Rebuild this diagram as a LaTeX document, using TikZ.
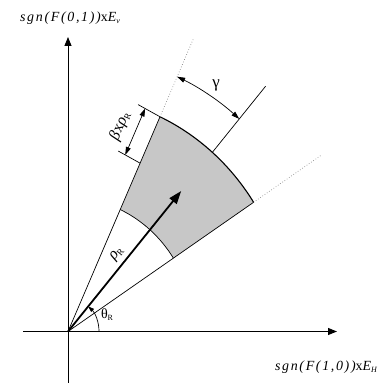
\documentclass[tikz,border=0pt]{standalone}
\usepackage{fontspec}
\setmainfont{Liberation Serif}
\newfontfamily\axfont[LetterSpace=12]{Liberation Serif}
\usetikzlibrary{arrows.meta,calc}
\begin{document}
\begin{tikzpicture}[x=1bp,y=1bp,
  axis/.style={line width=0.8bp,-{Triangle[length=9bp,width=7bp]}},
  edge/.style={line width=0.7bp},
  rim/.style={line width=1.1bp},
  guide/.style={line width=0.7bp, dotted, black!45},
  dim/.style={line width=0.7bp,{Triangle[length=8bp,width=5bp]}-{Triangle[length=8bp,width=5bp]}},
  rho/.style={line width=1.8bp,-{Triangle[length=13bp,width=9bp]}},
  thetaarc/.style={line width=0.7bp,-{Triangle[length=6bp,width=4bp]}},
  lbl/.style={font=\fontsize{14}{16}\selectfont, inner sep=0pt},
  axlbl/.style={font=\axfont\fontsize{14}{16}\selectfont\itshape, inner sep=0pt},
  ]
\useasboundingbox (0,0) rectangle (389,383);
\coordinate (O) at (68,51.5);
\coordinate (xl) at (23,51.5);
\coordinate (xr) at (337,51.5);
\coordinate (yb) at (68,0);
\coordinate (yt) at (68,346);
\begin{scope}[shift={(68,51.5)}, xscale=0.94]
  \coordinate (i1) at (33.2:134);
  \coordinate (i2) at (65.5:134);
  \coordinate (o1) at (33.2:236);
  \coordinate (o2) at (65.5:236);
  \coordinate (oc) at (49.4:236);
  \coordinate (e1) at (33.2:323);
  \coordinate (e2) at (65.5:323);
  \coordinate (ec) at (49.4:323);
  \coordinate (rt) at (49.4:185);
  \coordinate (m2) at (65.5:185);
  \coordinate (g1) at (65.5:280);
  \coordinate (t0) at (0:33);
  \fill[black!22] (i1) arc[start angle=33.2,end angle=65.5,radius=134] -- (o2)
     arc[start angle=65.5,end angle=33.2,radius=236] -- cycle;
  \draw[edge] (i1) arc[start angle=33.2,end angle=65.5,radius=134];
  \draw[rim] (o1) arc[start angle=33.2,end angle=65.5,radius=236];
  \draw[dim] (g1) arc[start angle=65.5,end angle=49.4,radius=280];
  \draw[thetaarc] (t0) arc[start angle=0,end angle=49.4,radius=33];
\end{scope}
\draw[axis] (xl) -- (xr);
\draw[axis] (yb) -- (yt);
\draw[edge] (O) -- (o1);
\draw[edge] (O) -- (o2);
\draw[guide] (o1) -- (e1);
\draw[guide] (o2) -- (e2);
\draw[edge] (oc) -- (ec);
\draw[rho] (O) -- (rt);
\coordinate (b1) at ($(o2)+(151:25)$);
\coordinate (b2) at ($(m2)+(151:25)$);
\coordinate (d1) at ($(o2)+(151:17)$);
\coordinate (d2) at ($(m2)+(151:17)$);
\draw[edge] (o2) -- (b1);
\draw[edge] (m2) -- (b2);
\draw[dim] (d2) -- (d1);
\node[lbl, font=\fontsize{16}{18}\selectfont, rotate=66.8] (beta) at (120,257) {\itshape β\upshape x\itshape ρ\upshape\raisebox{-0.3ex}{\fontsize{9}{9}\selectfont R}};
\node[lbl, font=\fontsize{17}{19}\selectfont] (gamma) at (216,298) {γ};
\node[lbl] (theta) at (107,68) {θ\raisebox{-0.3ex}{\fontsize{8}{8}\selectfont R}};
\node[lbl, font=\fontsize{16}{18}\selectfont, rotate=51] (rholbl) at (117,129) {\itshape ρ\upshape\raisebox{-0.3ex}{\fontsize{9}{9}\selectfont R}};
\node[axlbl] (ylab) at (70,365) {sgn(F(0,1))\upshape x\itshape E\raisebox{-0.3ex}{\fontsize{8}{8}\selectfont v}};
\node[axlbl] (xlab) at (326,16) {sgn(F(1,0))\upshape x\itshape E\raisebox{-0.3ex}{\fontsize{8}{8}\selectfont H}};
\end{tikzpicture}
\end{document}
